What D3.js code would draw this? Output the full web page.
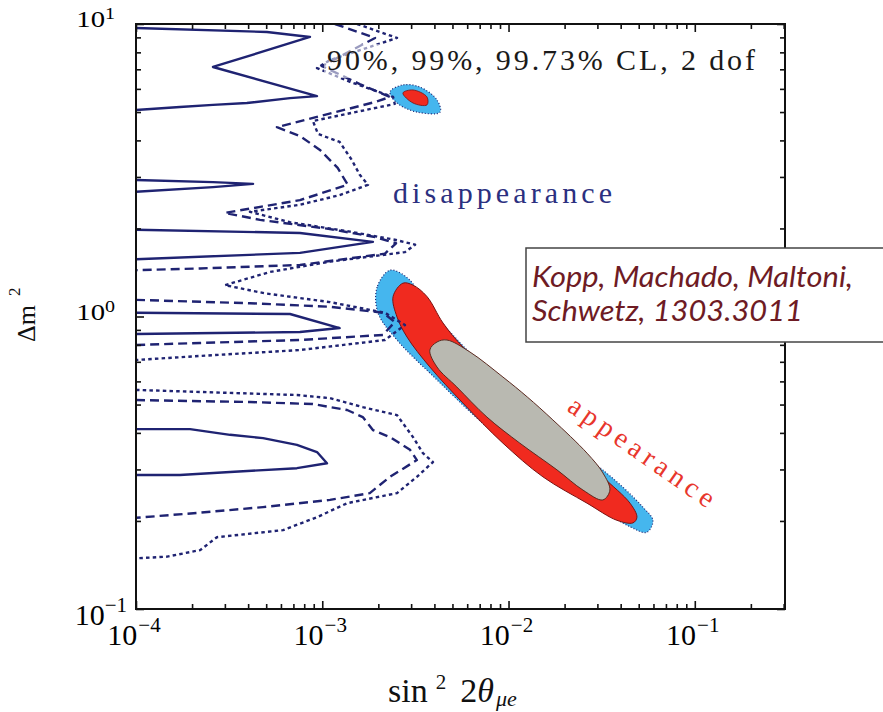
<!DOCTYPE html>
<html>
<head>
<meta charset="utf-8">
<script src="https://cdn.jsdelivr.net/npm/d3@7"></script>
<style>
	body { margin: 0; background: #fff; }
	svg { display: block; }
</style>
</head>
<body>
<div id="chart"></div>
<script>
(function () {

	'use strict';

	// axis ranges (sin^2 2theta_mue, dm^2 in eV^2) and decade labels
	const xDomain = [1e-4, 0.305];
	const yDomain = [0.1, 10];
	const xTickExps = [-4, -3, -2, -1];
	const yTickExps = [-1, 0, 1];

	// disappearance, 90% CL (solid) - open pieces, [sin2, dm2]
	const solid90 = [
		[[1e-4, 9.69], [5.05e-4, 9.39], [8.59e-4, 9.03], [2.59e-4, 7.13], [9.37e-4, 5.67], [6.71e-4, 5.58],
			[3.94e-4, 5.37], [2.59e-4, 5.29], [1.72e-4, 5.20], [1e-4, 5.08]],
		[[1e-4, 2.93], [2.59e-4, 2.88], [4.25e-4, 2.84], [2.59e-4, 2.77], [1e-4, 2.67]],
		[[1e-4, 1.98], [7.59e-4, 1.93], [1.87e-3, 1.80], [7.59e-4, 1.65], [1e-4, 1.57]],
		[[1e-4, 1.03], [6.71e-4, 1.02], [1.24e-3, 0.913], [7.59e-4, 0.885], [1e-4, 0.871]],
		[[1e-4, 0.412], [1.95e-4, 0.412], [3.2e-4, 0.394], [4.81e-4, 0.384], [7.31e-4, 0.364], [9.37e-4, 0.344],
			[1.06e-3, 0.315], [7.31e-4, 0.303], [3.2e-4, 0.294], [1.72e-4, 0.287], [1e-4, 0.287]]
	];

	// disappearance, 99% CL (dashed)
	const dashed99 = [
		[[1.17e-3, 10], [1.92e-3, 8.96], [9.96e-4, 7.18], [1.59e-3, 6.23], [2.31e-3, 5.63], [1.92e-3, 5.41],
			[5.71e-4, 4.44], [7.59e-4, 4.14], [9.72e-4, 3.71], [1.21e-3, 3.22], [1.37e-3, 2.82], [7.59e-4, 2.50],
			[3.0e-4, 2.26], [4.63e-4, 2.14], [1.10e-3, 1.99], [1.92e-3, 1.87], [2.49e-3, 1.78], [2.17e-3, 1.64],
			[7.59e-4, 1.50], [2.21e-4, 1.46], [1e-4, 1.44]],
		[[1e-4, 1.14], [4.09e-4, 1.11], [1.10e-3, 1.08], [2.12e-3, 1.03], [2.45e-3, 0.958], [2.12e-3, 0.865],
			[7.59e-4, 0.831], [2.21e-4, 0.812], [1e-4, 0.799]],
		[[1e-4, 0.518], [4.09e-4, 0.510], [8.91e-4, 0.502], [1.36e-3, 0.479], [1.65e-3, 0.453], [1.87e-3, 0.409],
			[2.31e-3, 0.387], [2.96e-3, 0.350], [3.22e-3, 0.323], [2.31e-3, 0.283], [1.80e-3, 0.249], [1.10e-3, 0.236],
			[4.81e-4, 0.223], [2.12e-4, 0.213], [1e-4, 0.205]]
	];

	// disappearance, 99.73% CL (dotted)
	const dotted9973 = [
		[[1.54e-3, 10], [2.52e-3, 8.96], [1.10e-3, 7.53], [9.37e-4, 7.07], [1.41e-3, 6.34], [2.40e-3, 5.63],
			[2.45e-3, 5.33], [8.91e-4, 4.66], [9.48e-4, 4.21], [1.24e-3, 3.95], [1.44e-3, 3.43], [1.59e-3, 3.05],
			[1.76e-3, 2.82], [1.24e-3, 2.60], [7.59e-4, 2.41], [4.09e-4, 2.28], [6.71e-4, 2.10], [1.41e-3, 1.95],
			[2.45e-3, 1.83], [3.15e-3, 1.76], [2.78e-3, 1.66], [1.10e-3, 1.54], [5.24e-4, 1.42], [3.0e-4, 1.28],
			[4.92e-4, 1.20], [1.10e-3, 1.12], [2.17e-3, 1.03], [2.78e-3, 0.935], [2.17e-3, 0.831], [7.59e-4, 0.768],
			[2.21e-4, 0.733], [1e-4, 0.710]],
		[[1e-4, 0.561], [7.31e-4, 0.539], [1.10e-3, 0.526], [1.65e-3, 0.490], [2.52e-3, 0.460], [3.07e-3, 0.387],
			[3.47e-3, 0.341], [3.93e-3, 0.318], [3.22e-3, 0.283], [2.52e-3, 0.249], [1.36e-3, 0.230], [9.37e-4, 0.206],
			[6.15e-4, 0.186], [2.72e-4, 0.176], [2.21e-4, 0.159], [1.47e-4, 0.151], [1e-4, 0.149]]
	];

	// appearance regions (closed)
	const appear9973 = [[2.31e-3, 1.44], [1.97e-3, 1.26], [1.99e-3, 1.03], [2.52e-3, 0.831], [4.13e-3, 0.607],
		[7.66e-3, 0.419], [1.42e-2, 0.306], [2.64e-2, 0.236], [4.49e-2, 0.191], [5.53e-2, 0.183], [5.96e-2, 0.201],
		[5.26e-2, 0.223], [4.11e-2, 0.261], [2.64e-2, 0.331], [1.53e-2, 0.443], [9.33e-3, 0.574], [5.98e-3, 0.768],
		[4.13e-3, 0.996], [3.34e-3, 1.20], [2.85e-3, 1.36]];
	const appear99 = [[2.71e-3, 1.30], [3.07e-3, 1.28], [3.65e-3, 1.17], [4.45e-3, 0.950], [5.69e-3, 0.787],
		[7.66e-3, 0.672], [1.06e-2, 0.561], [1.53e-2, 0.453], [2.33e-2, 0.350], [3.21e-2, 0.283], [4.49e-2, 0.230],
		[4.89e-2, 0.206], [4.66e-2, 0.197], [3.82e-2, 0.201], [2.64e-2, 0.230], [1.53e-2, 0.283], [9.33e-3, 0.369],
		[5.69e-3, 0.506], [3.78e-3, 0.672], [2.85e-3, 0.851], [2.52e-3, 0.996], [2.40e-3, 1.17]];
	const appear90 = [[4.67e-3, 0.831], [6.21e-3, 0.756], [9.33e-3, 0.621], [1.26e-2, 0.531], [1.73e-2, 0.443],
		[2.64e-2, 0.341], [3.21e-2, 0.292], [3.50e-2, 0.255], [3.21e-2, 0.236], [2.51e-2, 0.255], [1.82e-2, 0.299],
		[1.15e-2, 0.369], [7.66e-3, 0.453], [5.28e-3, 0.574], [4.13e-3, 0.672], [3.78e-3, 0.768], [4.13e-3, 0.818]];
	const islandA9973 = [[2.31e-3, 5.86], [2.52e-3, 5.37], [3.22e-3, 5.00], [4.29e-3, 5.00], [4.13e-3, 5.50],
		[3.34e-3, 6.09], [2.71e-3, 6.19]];
	const islandA99 = [[2.71e-3, 5.81], [3.07e-3, 5.37], [3.65e-3, 5.29], [3.65e-3, 5.63], [3.07e-3, 5.95]];

	const clText = '90%, 99%, 99.73% CL, 2 dof';
	const refLines = ['Kopp, Machado, Maltoni,', 'Schwetz, 1303.3011'];

	// layout
	let margin = {top: 24, left: 136};
	let width = 649;
	let height = 585;
	let navy = '#1f2372';
	let serif = 'Liberation Serif, DejaVu Serif, serif';

	let svg = d3.select('#chart').append('svg')
		.attr('width', 883)
		.attr('height', 712);

	let x = d3.scaleLog().domain(xDomain).range([margin.left, margin.left + width]);
	let y = d3.scaleLog().domain(yDomain).range([margin.top + height, margin.top]);

	svg.append('clipPath').attr('id', 'plotClip')
		.append('rect')
		.attr('x', margin.left).attr('y', margin.top)
		.attr('width', width).attr('height', height);

	let plot = svg.append('g').attr('clip-path', 'url(#plotClip)');

	let line = d3.line().x(d => x(d[0])).y(d => y(d[1]));
	let blob = d3.line().x(d => x(d[0])).y(d => y(d[1])).curve(d3.curveCatmullRomClosed.alpha(0.5));

	// appearance regions
	let regions = [
		{pts: appear9973, fill: '#45b6ee', stroke: navy, w: 1.2, dash: '1,2'},
		{pts: appear99, fill: '#f02a1f', stroke: '#7a1212', w: 1, dash: null},
		{pts: appear90, fill: '#b9b9b1', stroke: '#5b2a20', w: 1, dash: null},
		{pts: islandA9973, fill: '#45b6ee', stroke: navy, w: 1.2, dash: '1,2'},
		{pts: islandA99, fill: '#f02a1f', stroke: '#7a1212', w: 0.8, dash: null}
	];
	plot.selectAll('path.region')
		.data(regions)
		.enter().append('path')
		.attr('class', 'region')
		.attr('d', d => blob(d.pts))
		.attr('fill', d => d.fill)
		.attr('stroke', d => d.stroke)
		.attr('stroke-width', d => d.w)
		.attr('stroke-dasharray', d => d.dash);

	// disappearance contours
	let styles = [
		{segs: solid90, dash: null},
		{segs: dashed99, dash: '9,5'},
		{segs: dotted9973, dash: '3.5,3.2'}
	];
	styles.forEach(function (s) {
		plot.selectAll(null)
			.data(s.segs)
			.enter().append('path')
			.attr('d', line)
			.attr('fill', 'none')
			.attr('stroke', navy)
			.attr('stroke-width', 2.4)
			.attr('stroke-linejoin', 'round')
			.attr('stroke-dasharray', s.dash);
	});

	// faint box behind the CL note
	svg.append('rect')
		.attr('x', 324).attr('y', 44)
		.attr('width', 436).attr('height', 34)
		.attr('fill', '#fff').attr('opacity', 0.55);

	svg.append('text')
		.attr('x', 327).attr('y', 70)
		.attr('font-family', serif).attr('font-size', 30)
		.attr('fill', '#1a1a1a')
		.attr('textLength', 428).attr('lengthAdjust', 'spacing')
		.text(clText);

	svg.append('text')
		.attr('x', 393).attr('y', 203)
		.attr('font-family', serif).attr('font-size', 30)
		.attr('fill', '#2b3080')
		.attr('textLength', 219).attr('lengthAdjust', 'spacing')
		.text('disappearance');

	svg.append('text')
		.attr('transform', 'translate(566,410) rotate(35)')
		.attr('font-family', serif).attr('font-size', 28)
		.attr('fill', '#e8362c')
		.attr('textLength', 172).attr('lengthAdjust', 'spacing')
		.text('appearance');

	// ****************** axes ***************************
	let isMajor = v => Math.abs(Math.log10(v) - Math.round(Math.log10(v))) < 1e-9;
	let xMajor = x.ticks().filter(isMajor);
	let xMinor = x.ticks().filter(v => !isMajor(v));
	let yMajor = y.ticks().filter(isMajor);
	let yMinor = y.ticks().filter(v => !isMajor(v));

	let axes = [
		[d3.axisBottom(x), xMajor, xMinor, 'translate(0,' + (margin.top + height) + ')'],
		[d3.axisTop(x), xMajor, xMinor, 'translate(0,' + margin.top + ')'],
		[d3.axisLeft(y), yMajor, yMinor, 'translate(' + margin.left + ',0)'],
		[d3.axisRight(y), yMajor, yMinor, 'translate(' + (margin.left + width) + ',0)']
	];
	axes.forEach(function (a) {
		[[a[1], 8], [a[2], 5]].forEach(function (t) {
			let g = svg.append('g')
				.attr('transform', a[3])
				.call(a[0].tickValues(t[0]).tickSize(-t[1]).tickFormat(''));
			g.select('.domain').remove();
			g.selectAll('.tick line').attr('stroke', '#111').attr('stroke-width', 1.6);
		});
	});

	svg.append('rect')
		.attr('x', margin.left).attr('y', margin.top)
		.attr('width', width).attr('height', height)
		.attr('fill', 'none')
		.attr('stroke', '#111')
		.attr('stroke-width', 2);

	// decade labels
	svg.selectAll('text.xlab')
		.data(xTickExps)
		.enter().append('text')
		.attr('class', 'xlab')
		.attr('x', d => x(Math.pow(10, d)) - 2)
		.attr('y', margin.top + height + 36)
		.attr('text-anchor', 'middle')
		.attr('font-family', serif).attr('font-size', 30)
		.each(function (d) {
			let t = d3.select(this);
			t.append('tspan').text('10');
			t.append('tspan').attr('dy', -13).attr('dx', 1).attr('font-size', 21).text('\u2212' + Math.abs(d));
		});

	svg.selectAll('text.ylab')
		.data(yTickExps)
		.enter().append('text')
		.attr('class', 'ylab')
		.attr('text-anchor', 'end')
		.attr('font-family', serif)
		.attr('transform', function (d) {
			let yy = y(Math.pow(10, d));
			return d < 0 ? 'translate(127,' + (yy + 16) + ')' : 'translate(115,' + (yy + 3) + ') scale(1.25,1)';
		})
		.attr('font-size', d => d < 0 ? 30 : 23)
		.each(function (d) {
			let t = d3.select(this);
			t.append('tspan').text('10');
			t.append('tspan')
				.attr('dy', d < 0 ? -13 : -8)
				.attr('font-size', d < 0 ? 21 : 16)
				.text(d < 0 ? '\u2212' + Math.abs(d) : d);
		});

	// axis titles
	let ytitle = svg.append('text')
		.attr('transform', 'translate(35,342) rotate(-90)')
		.attr('font-family', serif).attr('font-size', 26)
		.attr('fill', '#111');
	ytitle.append('tspan').text('\u0394m');
	ytitle.append('tspan').attr('dx', 9).attr('dy', -15).attr('font-size', 17).text('2');

	let xtitle = svg.append('text')
		.attr('x', 388).attr('y', 702)
		.attr('font-family', serif).attr('font-size', 34)
		.attr('fill', '#111');
	xtitle.append('tspan').text('sin');
	xtitle.append('tspan').attr('dx', 8).attr('dy', -13).attr('font-size', 21).text('2');
	xtitle.append('tspan').attr('dx', 14).attr('dy', 13).text('2');
	xtitle.append('tspan').attr('font-style', 'italic').text('\u03b8');
	xtitle.append('tspan').attr('dx', 2).attr('dy', 4).attr('font-size', 22).attr('font-style', 'italic').text('\u03bce');

	// reference box (sits over the right frame)
	svg.append('rect')
		.attr('x', 526).attr('y', 248)
		.attr('width', 400).attr('height', 94)
		.attr('fill', '#fff')
		.attr('stroke', '#444')
		.attr('stroke-width', 1.5);

	svg.selectAll('text.ref')
		.data(refLines)
		.enter().append('text')
		.attr('class', 'ref')
		.attr('x', 532)
		.attr('y', (d, i) => 287 + i * 34)
		.attr('font-family', 'Lato, Open Sans, sans-serif')
		.attr('font-style', 'italic')
		.attr('font-size', 29)
		.attr('fill', '#6e1b24')
		.attr('textLength', (d, i) => i ? 271 : 321)
		.attr('lengthAdjust', 'spacingAndGlyphs')
		.text(d => d);

})();
</script>
</body>
</html>
